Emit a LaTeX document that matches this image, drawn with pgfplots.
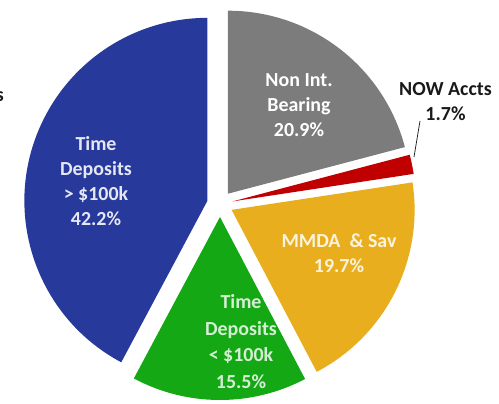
\documentclass[border=0pt]{standalone}
\usepackage{pgfplots}
\pgfplotsset{compat=1.18}
\usepackage{pgfplotstable}
\usepackage{fontspec}
\setmainfont{Carlito}
\definecolor{cgray}{HTML}{7C7C7C}
\definecolor{cred}{HTML}{C00000}
\definecolor{cgold}{HTML}{E8AE1E}
\definecolor{cgreen}{HTML}{14A814}
\definecolor{cblue}{HTML}{27399A}

\pgfplotstableread{
pct
20.9
1.7
19.7
15.5
42.2
}\piedata

\pgfplotstablegetelem{0}{pct}\of\piedata\let\pA\pgfplotsretval
\pgfplotstablegetelem{1}{pct}\of\piedata\let\pB\pgfplotsretval
\pgfplotstablegetelem{2}{pct}\of\piedata\let\pC\pgfplotsretval
\pgfplotstablegetelem{3}{pct}\of\piedata\let\pD\pgfplotsretval
\pgfplotstablegetelem{4}{pct}\of\piedata\let\pE\pgfplotsretval
\pgfmathsetmacro\cA{0}
\pgfmathsetmacro\cB{\cA+\pA}
\pgfmathsetmacro\cC{\cB+\pB}
\pgfmathsetmacro\cD{\cC+\pC}
\pgfmathsetmacro\cE{\cD+\pD}

\def\R{183}\def\E{13}\def\cx{220}\def\cy{199}
\newcommand\slice[3]{%
 \pgfmathsetmacro\sa{90-3.6*#1}%
 \pgfmathsetmacro\ea{90-3.6*(#1+#2)}%
 \pgfmathsetmacro\ma{(\sa+\ea)/2}%
 \pgfmathsetmacro\ox{\cx+\E*cos(\ma)}%
 \pgfmathsetmacro\oy{\cy+\E*sin(\ma)}%
 \edef\doit{\noexpand\fill[#3] (axis cs:\ox,\oy) -- ++(\sa:\R bp) arc[start angle=\sa, end angle=\ea, radius=\R bp] -- cycle;}\doit
}

\begin{document}
\begin{tikzpicture}
\begin{axis}[name=ax, x=1bp, y=1bp, xmin=0, xmax=499, ymin=0, ymax=403,
  hide axis, clip=false]
\path (axis cs:0,0) rectangle (axis cs:499,403);
\slice{\cA}{\pA}{cgray}
\slice{\cB}{\pB}{cred}
\slice{\cC}{\pC}{cgold}
\slice{\cD}{\pD}{cgreen}
\slice{\cE}{\pE}{cblue}
\tikzset{lbl/.style={align=center, inner sep=0pt, font=\bfseries\fontsize{20}{25}\selectfont}}
\node[lbl, text=white] at (axis cs:299,297.5) {Non Int.\\Bearing\\20.9\%};
\node[lbl, text=black!90] at (axis cs:445.5,301) {NOW Accts\\1.7\%};
\node[lbl, text=white!88!cblue] at (axis cs:96,222) {Time\\Deposits\\> \$100k\\42.2\%};
\node[lbl, text=white!85!cgold] at (axis cs:339,149.5) {MMDA~ \& Sav\\19.7\%};
\node[lbl, text=white!82!cgreen, font=\bfseries\fontsize{20}{26.5}\selectfont] at (axis cs:241,61.4) {Time\\Deposits\\< \$100k\\15.5\%};
\draw[black!85, line width=0.8pt] (axis cs:420,282) -- (axis cs:414,246);
\node[lbl, text=black!90, anchor=base east] at (axis cs:4,302) {s};
\end{axis}
\pgfresetboundingbox
\path (ax.south west) rectangle (ax.north east);
\end{tikzpicture}
\end{document}
